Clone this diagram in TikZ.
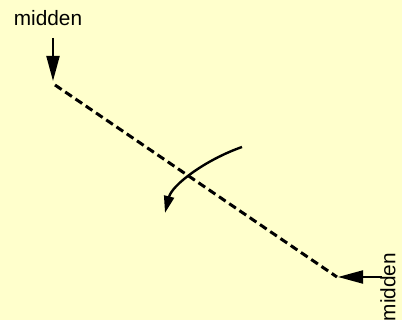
\documentclass[tikz,border=0pt]{standalone}
\usepackage{fontspec}
\setmainfont{Liberation Sans}
\usetikzlibrary{arrows.meta, positioning}
\definecolor{paper}{RGB}{255,255,204}

\begin{document}
\begin{tikzpicture}[
  x=0.5pt, y=-0.5pt,
  label/.style={inner sep=0pt, font=\fontsize{10.4}{12}\selectfont},
  pointer/.style={line width=1pt, -{Triangle[length=12.5pt, width=6.5pt]}},
  axis/.style={line width=1.5pt, dash pattern=on 4pt off 2.2pt},
  turn/.style={line width=1.2pt, -{Triangle[length=8.5pt, width=5pt]}}
]
  % achtergrond
  \fill[paper] (0,0) rectangle (402,320);
  \useasboundingbox (0,0) rectangle (402,320);

  % as
  \coordinate (top) at (55,85);
  \coordinate (bottom) at (337,277);
  \draw[axis] (top) -- (bottom);

  % bovenste midden
  \node[label] (mtop) at (48,18) {midden};
  \coordinate (ptop) at (53,38);
  \draw[pointer] (ptop) -- (53,81);

  % onderste midden
  \node[label, rotate=90] (mbottom) at (388,287) {midden};
  \coordinate (pbottom) at (382,277);
  \draw[pointer] (pbottom) -- (338,277);

  % draairichting
  \coordinate (rstart) at (242,147);
  \coordinate (rend) at (165,213);
  \draw[turn] (rstart) .. controls (205,160) and (172,185) .. (rend);
\end{tikzpicture}
\end{document}
